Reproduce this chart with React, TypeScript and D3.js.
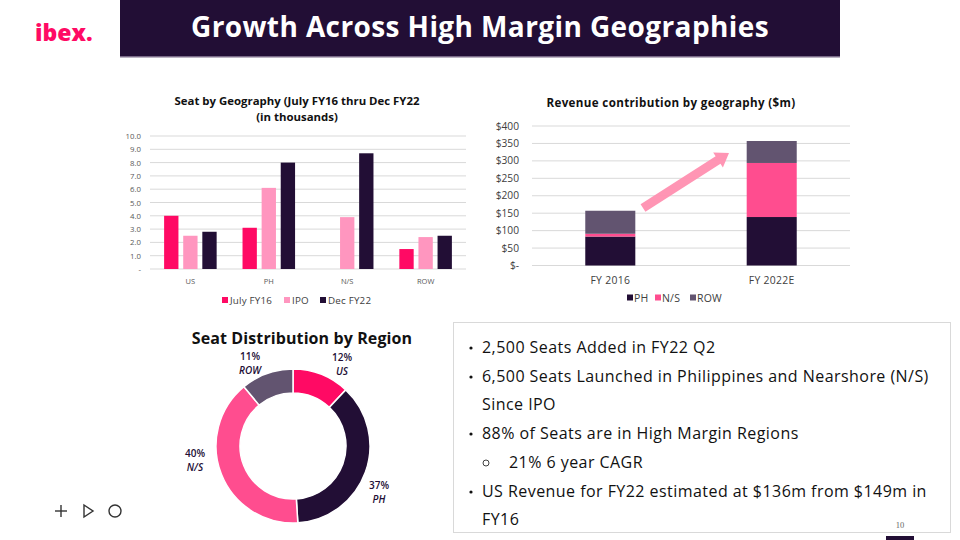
import React from "react";
import * as d3 from "d3";

const seatCategories = ["US", "PH", "N/S", "ROW"];
const seatSeries = ["July FY16", "IPO", "Dec FY22"];
const julyFY16 = [4.0, 3.1, 0, 1.5];
const ipo = [2.5, 6.1, 3.9, 2.4];
const decFY22 = [2.8, 8.0, 8.7, 2.5];
const seatTicks = [0, 1, 2, 3, 4, 5, 6, 7, 8, 9, 10];

const revCategories = ["FY 2016", "FY 2022E"];
const revSeries = ["PH", "N/S", "ROW"];
const revPH = [83, 139];
const revNS = [8, 155];
const revROW = [66, 63];
const revTicks = [0, 50, 100, 150, 200, 250, 300, 350, 400];

const donutRegions = ["US", "PH", "N/S", "ROW"];
const donutShares = [12, 37, 40, 11];

const bullets = [
  { text: "2,500 Seats Added in FY22 Q2", level: 0 },
  { text: "6,500 Seats Launched in Philippines and Nearshore (N/S)", level: 0 },
  { text: "Since IPO", level: -1 },
  { text: "88% of Seats are in High Margin Regions", level: 0 },
  { text: "21% 6 year CAGR", level: 1 },
  { text: "US Revenue for FY22 estimated at $136m from $149m in", level: 0 },
  { text: "FY16", level: -1 },
];

const DARK = "#220e35";
const HOT = "#ff0a64";
const LIGHT = "#ff96bf";
const MID = "#ff4d8f";
const GREY = "#625470";
const FONT = "'Open Sans', Lato, sans-serif";

const seatColors = [HOT, LIGHT, DARK];
const revColors = [DARK, MID, GREY];
const donutColors = [HOT, DARK, MID, GREY];

function SeatChart() {
  const x0 = d3.scaleBand().domain(seatCategories).range([150, 466]).paddingInner(0.33).paddingOuter(0.18);
  const x1 = d3.scaleBand().domain(seatSeries).range([0, x0.bandwidth()]).paddingInner(0.25);
  const y = d3.scaleLinear().domain([0, 10]).range([269, 136]);
  const data = [julyFY16, ipo, decFY22];
  const legendX = [222, 284, 320];
  return (
    <g fontFamily={FONT}>
      <text x={297} y={105} textAnchor="middle" fontSize={11.4} fontWeight={700} fill="#111">
        Seat by Geography (July FY16 thru Dec FY22
      </text>
      <text x={297} y={121} textAnchor="middle" fontSize={11.4} fontWeight={700} fill="#111">
        (in thousands)
      </text>
      {seatTicks.map((t) => (
        <g key={t}>
          <line x1={150} x2={466} y1={y(t)} y2={y(t)} stroke="#d9d9d9" strokeWidth={1} />
          <text x={141} y={y(t) + 3} textAnchor="end" fontSize={7.8} fill="#595959">
            {t === 0 ? "-" : t.toFixed(1)}
          </text>
        </g>
      ))}
      {seatCategories.map((c, i) => (
        <g key={c}>
          {seatSeries.map((s, j) =>
            data[j][i] > 0 ? (
              <rect
                key={s}
                x={(x0(c) as number) + (x1(s) as number)}
                y={y(data[j][i])}
                width={x1.bandwidth()}
                height={269 - y(data[j][i])}
                fill={seatColors[j]}
              />
            ) : null
          )}
          <text x={(x0(c) as number) + x0.bandwidth() / 2} y={283.5} textAnchor="middle" fontSize={7.5} fill="#595959">
            {c}
          </text>
        </g>
      ))}
      {seatSeries.map((s, j) => (
        <g key={s}>
          <rect x={legendX[j]} y={297} width={6} height={6} fill={seatColors[j]} />
          <text x={legendX[j] + 8} y={303.5} fontSize={9.8} letterSpacing={0.2} fill="#404040">
            {s}
          </text>
        </g>
      ))}
    </g>
  );
}

function RevenueChart() {
  const x = d3.scaleBand().domain(revCategories).range([532, 850]).paddingInner(0.69).paddingOuter(0.33);
  const y = d3.scaleLinear().domain([0, 400]).range([265.5, 126]);
  const stack = d3.stack<number>().keys(["0", "1", "2"]).value((i, k) => [revPH, revNS, revROW][+k][i]);
  const layers = stack([0, 1]);
  const legendX = [627, 655, 690];
  return (
    <g fontFamily={FONT}>
      <text x={671} y={107} textAnchor="middle" fontSize={11.6} letterSpacing={0.35} fontWeight={700} fill="#111">
        Revenue contribution by geography ($m)
      </text>
      {revTicks.map((t) => (
        <g key={t}>
          <line x1={532} x2={850} y1={y(t)} y2={y(t)} stroke="#d9d9d9" strokeWidth={1} />
          <text x={519} y={y(t) + 3.5} textAnchor="end" fontSize={10.2} fill="#404040">
            {t === 0 ? "$-" : "$" + t}
          </text>
        </g>
      ))}
      {layers.map((layer, k) =>
        layer.map((d, i) => (
          <rect
            key={k + "-" + i}
            x={x(revCategories[i]) as number}
            y={y(d[1])}
            width={x.bandwidth()}
            height={y(d[0]) - y(d[1])}
            fill={revColors[k]}
          />
        ))
      )}
      {revCategories.map((c) => (
        <text key={c} x={(x(c) as number) + x.bandwidth() / 2} y={283.5} textAnchor="middle" fontSize={10.4} letterSpacing={0.3} fill="#404040">
          {c}
        </text>
      ))}
      {revSeries.map((s, j) => (
        <g key={s}>
          <rect x={legendX[j]} y={294.5} width={6} height={6} fill={revColors[j]} />
          <text x={legendX[j] + 7} y={302} fontSize={10.5} letterSpacing={0.2} fill="#404040">
            {s}
          </text>
        </g>
      ))}
      <Arrow x1={643} y1={208} x2={729} y2={153} />
    </g>
  );
}

function Arrow({ x1, y1, x2, y2 }: { x1: number; y1: number; x2: number; y2: number }) {
  const dx = x2 - x1;
  const dy = y2 - y1;
  const len = Math.hypot(dx, dy);
  const ang = (Math.atan2(dy, dx) * 180) / Math.PI;
  const sw = 4.5;
  const hw = 9;
  const hl = 13;
  const pts = [
    [0, -sw],
    [len - hl, -sw],
    [len - hl, -hw],
    [len, 0],
    [len - hl, hw],
    [len - hl, sw],
    [0, sw],
  ]
    .map((p) => p.join(","))
    .join(" ");
  return <polygon points={pts} transform={`translate(${x1},${y1}) rotate(${ang})`} fill="#ff8fb0" opacity={0.95} />;
}

function Donut() {
  const cx = 293;
  const cy = 446;
  const pie = d3.pie<number>().sort(null).value((d) => d);
  const arcs = pie(donutShares);
  const arc = d3.arc<d3.PieArcDatum<number>>().innerRadius(53).outerRadius(77);
  const labelPos = [
    [342, 361],
    [379, 489],
    [195, 457],
    [250, 360],
  ];
  return (
    <g fontFamily={FONT}>
      <text x={302} y={344} textAnchor="middle" fontSize={16} letterSpacing={0.1} fontWeight={700} fill="#111">
        Seat Distribution by Region
      </text>
      <g transform={`translate(${cx},${cy})`}>
        {arcs.map((a, i) => (
          <path key={i} d={arc(a) as string} fill={donutColors[i]} stroke="#fff" strokeWidth={1.5} />
        ))}
      </g>
      {donutRegions.map((r, i) => (
        <g key={r} fill={DARK} fontSize={10} fontWeight={600} textAnchor="middle">
          <text x={labelPos[i][0]} y={labelPos[i][1]}>
            {donutShares[i]}%
          </text>
          <text x={labelPos[i][0]} y={labelPos[i][1] + 14} fontStyle="italic">
            {r}
          </text>
        </g>
      ))}
    </g>
  );
}

function TextBox() {
  const ys = [353, 382, 410, 439, 468, 497, 525];
  return (
    <g fontFamily={FONT}>
      <rect x={453.5} y={322.5} width={497} height={210} fill="#fff" stroke="#d9d9d9" strokeWidth={1} />
      {bullets.map((b, i) => (
        <g key={i}>
          {b.level === 0 && <circle cx={471} cy={ys[i] - 5} r={1.6} fill="#111" />}
          {b.level === 1 && <circle cx={486} cy={ys[i] - 5} r={3} fill="none" stroke="#111" strokeWidth={0.8} />}
          <text x={b.level === 1 ? 509 : 482} y={ys[i]} fontSize={16} letterSpacing={0.45} fill="#111">
            {b.text}
          </text>
        </g>
      ))}
      <text x={900} y={528} textAnchor="middle" fontSize={8.5} fontFamily="'Liberation Serif', serif" fill="#666">
        10
      </text>
      <rect x={886} y={536} width={28} height={6} fill={DARK} />
    </g>
  );
}

export default function App() {
  return (
    <svg width={960} height={540} style={{ position: "absolute", left: 0, top: 0, background: "#fff" }}>
      <rect width={960} height={540} fill="#fff" />
      <rect x={120} y={0} width={720} height={56} fill={DARK} />
      <rect x={120} y={56} width={720} height={1.5} fill="#7a6a88" />
      <text x={480} y={37} textAnchor="middle" fontFamily={FONT} fontSize={28} letterSpacing={0.4} fontWeight={700} fill="#fff">
        Growth Across High Margin Geographies
      </text>
      <text x={35} y={41} fontFamily={FONT} fontSize={23} fontWeight={800} fill={HOT} letterSpacing={0}>
        ibex.
      </text>
      <SeatChart />
      <RevenueChart />
      <Donut />
      <TextBox />
      <g stroke="#333" strokeWidth={1.4} fill="none">
        <line x1={55} x2={67} y1={511} y2={511} />
        <line x1={61} x2={61} y1={505} y2={517} />
        <polygon points="84,505 93,511 84,517" />
        <circle cx={115} cy={511} r={6} />
      </g>
    </svg>
  );
}
